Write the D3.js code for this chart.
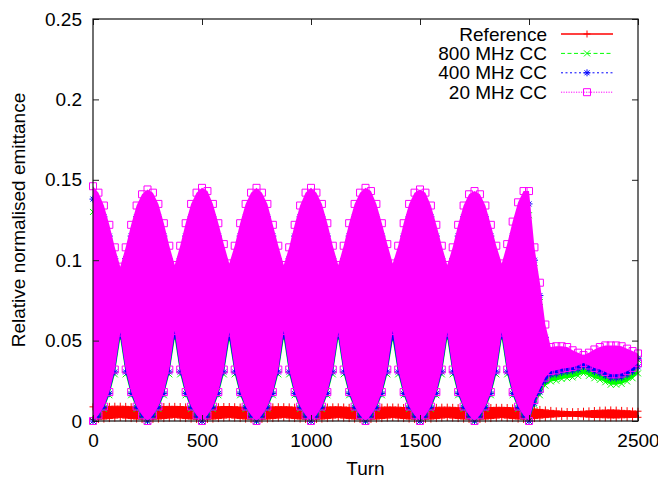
<!DOCTYPE html>
<html>
<head>
<meta charset="utf-8">
<script src="https://cdn.jsdelivr.net/npm/d3@7"></script>
<style>
  body { margin: 0; background: #fff; }
  text { font-family: "Liberation Sans", Arial, Helvetica, sans-serif; }
</style>
</head>
<body>
<script>
// sampling grid of the envelopes (turns)
const turns = d3.range(0, 2501, 25);

const xTicks = [0, 500, 1000, 1500, 2000, 2500];
const yTicks = [0, 0.05, 0.1, 0.15, 0.2, 0.25];

// envelopes (upper / lower edge of each point cloud)
const refUpper = [
  0.0088, 0.0089, 0.0090, 0.0091, 0.0092, 0.0092, 0.0091, 0.0089, 0.0088, 0.0087,
  0.0087, 0.0088, 0.0089, 0.0090, 0.0091, 0.0091, 0.0090, 0.0088, 0.0087, 0.0086,
  0.0086, 0.0087, 0.0088, 0.0089, 0.0090, 0.0090, 0.0089, 0.0087, 0.0086, 0.0085,
  0.0085, 0.0086, 0.0087, 0.0088, 0.0089, 0.0089, 0.0088, 0.0086, 0.0085, 0.0084,
  0.0084, 0.0085, 0.0086, 0.0087, 0.0088, 0.0088, 0.0087, 0.0085, 0.0084, 0.0083,
  0.0083, 0.0084, 0.0085, 0.0086, 0.0087, 0.0087, 0.0086, 0.0084, 0.0083, 0.0082,
  0.0082, 0.0083, 0.0084, 0.0085, 0.0086, 0.0086, 0.0085, 0.0083, 0.0082, 0.0081,
  0.0081, 0.0082, 0.0083, 0.0084, 0.0085, 0.0085, 0.0084, 0.0082, 0.0081, 0.0080,
  0.0078, 0.0075, 0.0072, 0.0069, 0.0066, 0.0063, 0.0061, 0.0059, 0.0058, 0.0059,
  0.0061, 0.0063, 0.0065, 0.0067, 0.0068, 0.0069, 0.0068, 0.0066, 0.0064, 0.0062,
  0.0061
];
const refLower = [
  0.0010, 0.0010, 0.0012, 0.0015, 0.0018, 0.0021, 0.0018, 0.0015, 0.0012, 0.0010,
  0.0010, 0.0010, 0.0012, 0.0015, 0.0018, 0.0021, 0.0018, 0.0015, 0.0012, 0.0010,
  0.0010, 0.0010, 0.0012, 0.0015, 0.0018, 0.0021, 0.0018, 0.0015, 0.0012, 0.0010,
  0.0010, 0.0010, 0.0012, 0.0015, 0.0018, 0.0021, 0.0018, 0.0015, 0.0012, 0.0010,
  0.0010, 0.0010, 0.0012, 0.0015, 0.0018, 0.0021, 0.0018, 0.0015, 0.0012, 0.0010,
  0.0010, 0.0010, 0.0012, 0.0015, 0.0018, 0.0021, 0.0018, 0.0015, 0.0012, 0.0010,
  0.0010, 0.0010, 0.0012, 0.0015, 0.0018, 0.0021, 0.0018, 0.0015, 0.0012, 0.0010,
  0.0010, 0.0010, 0.0012, 0.0015, 0.0018, 0.0021, 0.0018, 0.0015, 0.0012, 0.0010,
  0.0012, 0.0015, 0.0018, 0.0021, 0.0024, 0.0026, 0.0028, 0.0029, 0.0029, 0.0028,
  0.0026, 0.0024, 0.0022, 0.0021, 0.0020, 0.0019, 0.0019, 0.0020, 0.0021, 0.0022,
  0.0023
];

const cc800Upper = [
  0.130, 0.126, 0.119, 0.107, 0.093, 0.081, 0.093, 0.107, 0.119, 0.126,
  0.130, 0.126, 0.119, 0.107, 0.093, 0.081, 0.093, 0.107, 0.119, 0.126,
  0.130, 0.126, 0.119, 0.107, 0.093, 0.081, 0.093, 0.107, 0.119, 0.126,
  0.130, 0.126, 0.119, 0.107, 0.093, 0.081, 0.093, 0.107, 0.119, 0.126,
  0.130, 0.126, 0.119, 0.107, 0.093, 0.081, 0.093, 0.107, 0.119, 0.126,
  0.130, 0.126, 0.119, 0.107, 0.093, 0.081, 0.093, 0.107, 0.119, 0.126,
  0.130, 0.126, 0.119, 0.107, 0.093, 0.081, 0.093, 0.107, 0.119, 0.126,
  0.130, 0.126, 0.119, 0.107, 0.093, 0.081, 0.093, 0.107, 0.119, 0.126,
  0.128, 0.095, 0.074, 0.048, 0.035, 0.035, 0.036, 0.036, 0.037, 0.038,
  0.038, 0.037, 0.035, 0.034, 0.033, 0.031, 0.031, 0.032, 0.033, 0.035,
  0.038
];
const cc800Lower = [
  0, 0.0025, 0.0075, 0.016, 0.029, 0.051, 0.029, 0.016, 0.0075, 0.0025,
  0, 0.0025, 0.0075, 0.016, 0.029, 0.051, 0.029, 0.016, 0.0075, 0.0025,
  0, 0.0025, 0.0075, 0.016, 0.029, 0.050, 0.029, 0.016, 0.0075, 0.0025,
  0, 0.0025, 0.0075, 0.016, 0.029, 0.051, 0.029, 0.016, 0.0075, 0.0025,
  0, 0.0025, 0.0075, 0.016, 0.029, 0.051, 0.029, 0.016, 0.0075, 0.0025,
  0, 0.0025, 0.0075, 0.016, 0.029, 0.050, 0.029, 0.016, 0.0075, 0.0025,
  0, 0.0025, 0.0075, 0.016, 0.029, 0.051, 0.029, 0.016, 0.0075, 0.0025,
  0, 0.0025, 0.0075, 0.016, 0.029, 0.051, 0.029, 0.016, 0.0075, 0.0025,
  0, 0.010, 0.016, 0.022, 0.0246, 0.0251, 0.0261, 0.0266, 0.0271, 0.0281,
  0.0296, 0.0281, 0.0266, 0.0256, 0.0241, 0.0226, 0.0226, 0.0231, 0.0246, 0.0266,
  0.0296
];

const cc400Upper = [
  0.138, 0.134, 0.127, 0.115, 0.101, 0.089, 0.101, 0.115, 0.127, 0.134,
  0.138, 0.134, 0.127, 0.115, 0.101, 0.089, 0.101, 0.115, 0.127, 0.134,
  0.138, 0.134, 0.127, 0.115, 0.101, 0.089, 0.101, 0.115, 0.127, 0.134,
  0.138, 0.134, 0.127, 0.115, 0.101, 0.089, 0.101, 0.115, 0.127, 0.134,
  0.138, 0.134, 0.127, 0.115, 0.101, 0.089, 0.101, 0.115, 0.127, 0.134,
  0.138, 0.134, 0.127, 0.115, 0.101, 0.089, 0.101, 0.115, 0.127, 0.134,
  0.138, 0.134, 0.127, 0.115, 0.101, 0.089, 0.101, 0.115, 0.127, 0.134,
  0.138, 0.134, 0.127, 0.115, 0.101, 0.089, 0.101, 0.115, 0.127, 0.134,
  0.135, 0.100, 0.078, 0.052, 0.036, 0.036, 0.037, 0.037, 0.038, 0.039,
  0.039, 0.0375, 0.036, 0.035, 0.0335, 0.032, 0.032, 0.0325, 0.034, 0.036,
  0.039
];
const cc400Lower = [
  0, 0.003, 0.0083, 0.017, 0.0305, 0.053, 0.0305, 0.017, 0.0083, 0.003,
  0, 0.003, 0.0083, 0.017, 0.0305, 0.053, 0.0305, 0.017, 0.0083, 0.003,
  0, 0.003, 0.0083, 0.017, 0.0305, 0.052, 0.0305, 0.017, 0.0083, 0.003,
  0, 0.003, 0.0083, 0.017, 0.0305, 0.053, 0.0305, 0.017, 0.0083, 0.003,
  0, 0.003, 0.0083, 0.017, 0.0305, 0.053, 0.0305, 0.017, 0.0083, 0.003,
  0, 0.003, 0.0083, 0.017, 0.0305, 0.052, 0.0305, 0.017, 0.0083, 0.003,
  0, 0.003, 0.0083, 0.017, 0.0305, 0.053, 0.0305, 0.017, 0.0083, 0.003,
  0, 0.003, 0.0083, 0.017, 0.0305, 0.053, 0.0305, 0.017, 0.0083, 0.003,
  0, 0.011, 0.018, 0.025, 0.0287, 0.0292, 0.0302, 0.0307, 0.0312, 0.0322,
  0.0337, 0.0322, 0.0307, 0.0297, 0.0282, 0.0267, 0.0267, 0.0272, 0.0287, 0.0307,
  0.0337
];

const cc20Upper = [
  0.146, 0.142, 0.134, 0.122, 0.108, 0.096, 0.108, 0.122, 0.134, 0.141,
  0.144, 0.142, 0.135, 0.123, 0.109, 0.097, 0.109, 0.123, 0.135, 0.142,
  0.145, 0.143, 0.135, 0.123, 0.110, 0.098, 0.109, 0.123, 0.135, 0.142,
  0.145, 0.142, 0.135, 0.122, 0.109, 0.097, 0.108, 0.122, 0.134, 0.142,
  0.145, 0.142, 0.135, 0.123, 0.109, 0.097, 0.109, 0.123, 0.135, 0.142,
  0.145, 0.143, 0.135, 0.123, 0.110, 0.098, 0.109, 0.123, 0.135, 0.142,
  0.144, 0.142, 0.134, 0.122, 0.109, 0.097, 0.108, 0.122, 0.134, 0.141,
  0.143, 0.141, 0.134, 0.122, 0.109, 0.098, 0.110, 0.124, 0.136, 0.143,
  0.143, 0.108, 0.086, 0.060, 0.046, 0.0465, 0.0465, 0.046, 0.044, 0.0425,
  0.041, 0.0425, 0.0445, 0.046, 0.047, 0.047, 0.047, 0.0465, 0.045, 0.0435,
  0.042
];
const cc20Lower = [
  0, 0.0035, 0.009, 0.018, 0.032, 0.055, 0.032, 0.018, 0.009, 0.0035,
  0, 0.0035, 0.009, 0.018, 0.032, 0.056, 0.032, 0.018, 0.009, 0.0035,
  0, 0.0035, 0.009, 0.018, 0.032, 0.055, 0.032, 0.018, 0.009, 0.0035,
  0, 0.0035, 0.009, 0.018, 0.032, 0.056, 0.032, 0.018, 0.009, 0.0035,
  0, 0.0035, 0.009, 0.018, 0.032, 0.055, 0.032, 0.018, 0.009, 0.0035,
  0, 0.0035, 0.009, 0.018, 0.032, 0.056, 0.032, 0.018, 0.009, 0.0035,
  0, 0.0035, 0.009, 0.018, 0.032, 0.055, 0.032, 0.018, 0.009, 0.0035,
  0, 0.0035, 0.009, 0.018, 0.032, 0.055, 0.032, 0.018, 0.009, 0.0035,
  0, 0.013, 0.020, 0.027, 0.031, 0.0315, 0.0325, 0.033, 0.0335, 0.0345,
  0.036, 0.0345, 0.033, 0.032, 0.0305, 0.029, 0.029, 0.0295, 0.031, 0.033,
  0.036
];

const seriesNames = ["Reference", "800 MHz CC", "400 MHz CC", "20 MHz CC"];

// ---------------------------------------------------------------
const width = 658, height = 478;
const plot = { left: 93, right: 638, top: 19, bottom: 421 };

const svg = d3.select("body").append("svg")
  .attr("width", width)
  .attr("height", height);

const x = d3.scaleLinear().domain([0, 2500]).range([plot.left, plot.right]);
const y = d3.scaleLinear().domain([0, 0.25]).range([plot.bottom, plot.top]);

const symbols = {
  plus: "M-3.5,0H3.5M0,-3.5V3.5",
  cross: "M-3,-3L3,3M-3,3L3,-3",
  star: "M-3.5,0H3.5M0,-3.5V3.5M-2.5,-2.5L2.5,2.5M-2.5,2.5L2.5,-2.5",
  square: "M-3.5,-3.5H3.5V3.5H-3.5Z"
};

const series = [
  { name: seriesNames[0], color: "#ff0000", upper: refUpper, lower: refLower, sym: symbols.plus, dash: null, lw: 1.5 },
  { name: seriesNames[1], color: "#00ff00", upper: cc800Upper, lower: cc800Lower, sym: symbols.cross, dash: "4,2.5", lw: 1 },
  { name: seriesNames[2], color: "#0000ff", upper: cc400Upper, lower: cc400Lower, sym: symbols.star, dash: "2,2.5", lw: 1 },
  { name: seriesNames[3], color: "#ff00ff", upper: cc20Upper, lower: cc20Lower, sym: symbols.square, dash: "1.2,1.3", lw: 1 }
];

const area = (s) => d3.area()
  .x((d, i) => x(turns[i]))
  .y0((d, i) => y(s.lower[i]))
  .y1((d, i) => y(s.upper[i]));

const data = svg.append("g");

series.forEach(s => {
  const g = data.append("g");
  g.append("path")
    .attr("d", area(s)(turns))
    .attr("fill", s.color);

  const pts = turns.flatMap((t, i) => [[t, s.upper[i]], [t, s.lower[i]]]);
  g.selectAll("path.pt")
    .data(pts)
    .enter()
    .append("path")
    .attr("class", "pt")
    .attr("transform", d => `translate(${x(d[0])},${y(d[1])})`)
    .attr("d", s.sym)
    .attr("fill", "none")
    .attr("stroke", s.color)
    .attr("stroke-width", 1);
});

// axes (gnuplot style: inward ticks, mirrored)
const fontSize = "19px";

svg.append("g")
  .attr("transform", `translate(${plot.left},0)`)
  .call(d3.axisLeft(y).tickValues(yTicks).tickSize(-6).tickPadding(11)
    .tickFormat(d => d3.format("~g")(d)))
  .call(g => g.select(".domain").remove())
  .call(g => g.selectAll("text").style("font-size", fontSize).attr("fill", "#000"))
  .call(g => g.selectAll("line").attr("stroke", "#222"));

svg.append("g")
  .attr("transform", `translate(${plot.right},0)`)
  .call(d3.axisRight(y).tickValues(yTicks).tickSize(-6).tickFormat(""))
  .call(g => g.select(".domain").remove())
  .call(g => g.selectAll("line").attr("stroke", "#222"));

svg.append("g")
  .attr("transform", `translate(0,${plot.bottom})`)
  .call(d3.axisBottom(x).tickValues(xTicks).tickSize(-6).tickPadding(13)
    .tickFormat(d3.format("d")))
  .call(g => g.select(".domain").remove())
  .call(g => g.selectAll("text").style("font-size", fontSize).attr("fill", "#000"))
  .call(g => g.selectAll("line").attr("stroke", "#222"));

svg.append("g")
  .attr("transform", `translate(0,${plot.top})`)
  .call(d3.axisTop(x).tickValues(xTicks).tickSize(-6).tickFormat(""))
  .call(g => g.select(".domain").remove())
  .call(g => g.selectAll("line").attr("stroke", "#222"));

svg.append("rect")
  .attr("x", plot.left)
  .attr("y", plot.top)
  .attr("width", plot.right - plot.left)
  .attr("height", plot.bottom - plot.top)
  .attr("fill", "none")
  .attr("stroke", "#111")
  .attr("stroke-width", 1.2);

// axis titles
svg.append("text")
  .attr("x", (plot.left + plot.right) / 2)
  .attr("y", 475)
  .attr("text-anchor", "middle")
  .style("font-size", fontSize)
  .text("Turn");

svg.append("text")
  .attr("transform", `translate(25,${(plot.top + plot.bottom) / 2}) rotate(-90)`)
  .attr("text-anchor", "middle")
  .style("font-size", fontSize)
  .text("Relative normalised emittance");

// legend
const legend = svg.append("g");
series.forEach((s, i) => {
  const ly = 34 + i * 19.4;
  legend.append("text")
    .attr("x", 547)
    .attr("y", ly)
    .attr("dy", "0.35em")
    .attr("text-anchor", "end")
    .style("font-size", fontSize)
    .text(s.name);
  legend.append("line")
    .attr("x1", 561).attr("x2", 613)
    .attr("y1", ly).attr("y2", ly)
    .attr("stroke", s.color)
    .attr("stroke-width", s.lw)
    .attr("stroke-dasharray", s.dash);
  legend.append("path")
    .attr("transform", `translate(587,${ly})`)
    .attr("d", s.sym)
    .attr("fill", "none")
    .attr("stroke", s.color)
    .attr("stroke-width", 1);
});
</script>
</body>
</html>
